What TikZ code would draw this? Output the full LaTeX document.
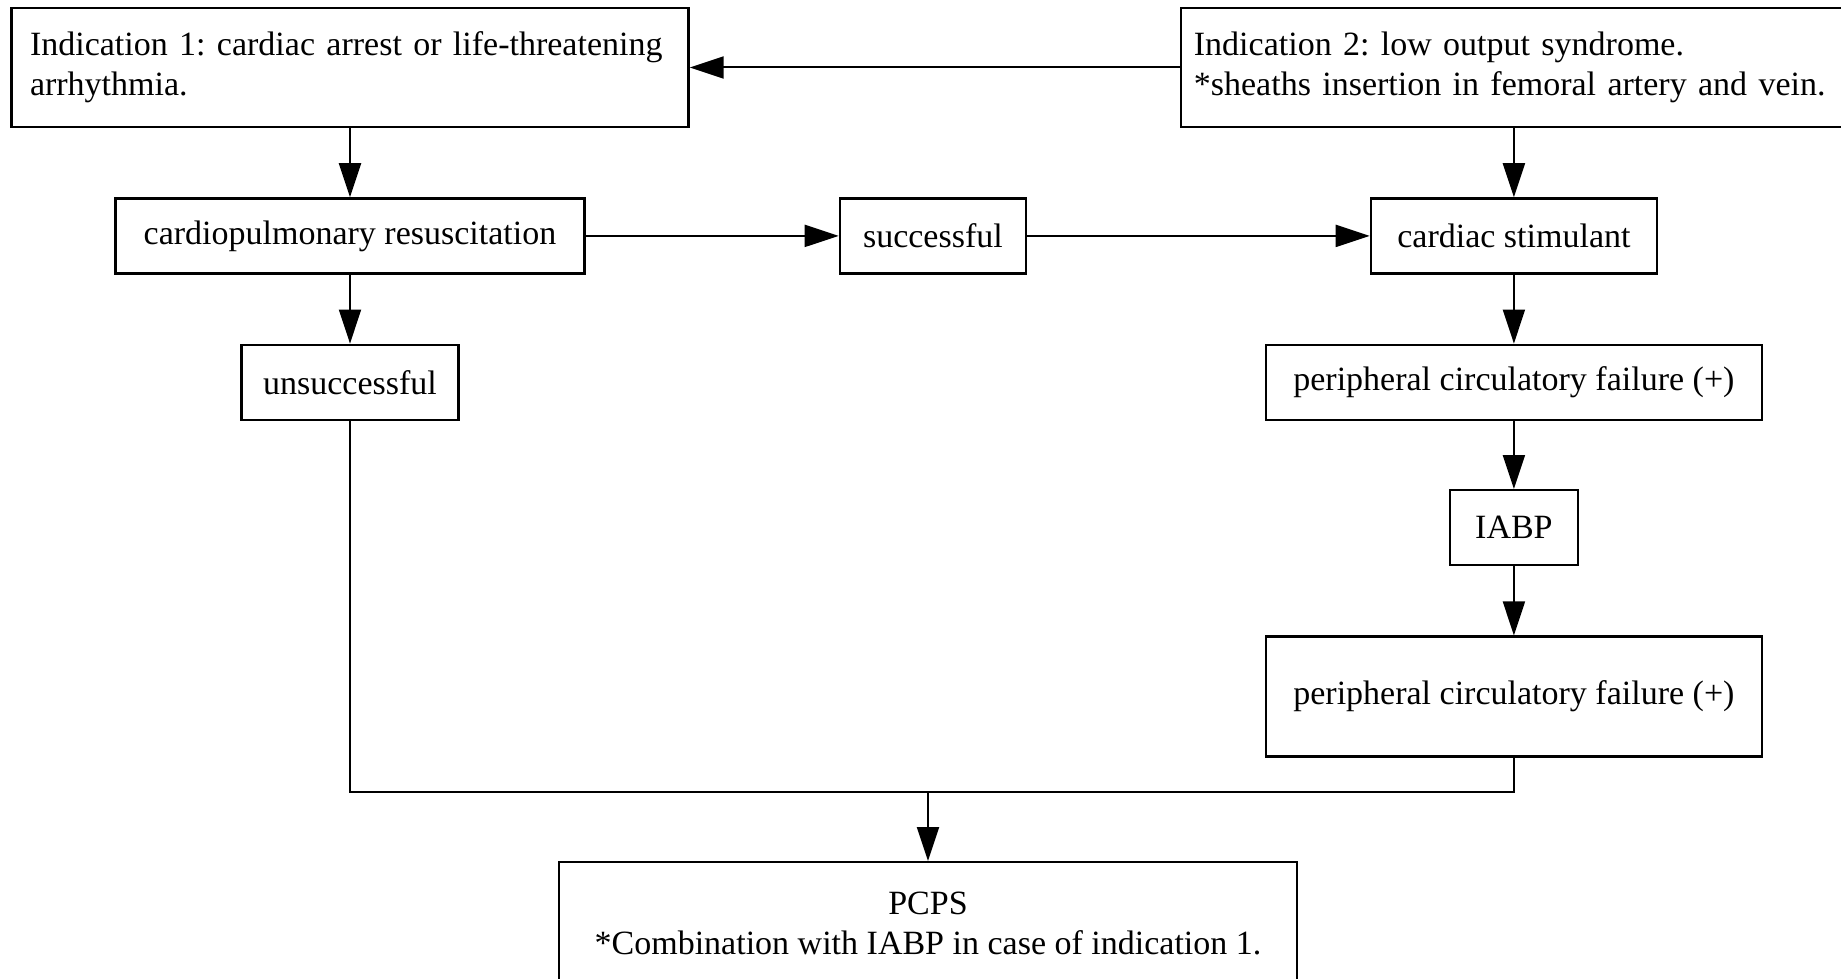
\documentclass[tikz,border=0pt]{standalone}
\usepackage{fontspec}
\setmainfont{Liberation Serif}
\usetikzlibrary{arrows.meta,positioning}
\frenchspacing

\begin{document}
\begin{tikzpicture}[x=0.5pt, y=-0.5pt, node distance=34.5pt,
        box/.style={rectangle, draw, line width=1.2pt, inner sep=0pt, align=center, minimum height=37.5pt, font=\fontsize{17}{20}\selectfont},
        note/.style={box, align=left, text width=320pt, minimum height=59.5pt, inner xsep=9.25pt},
        arrow/.style={->, >={Triangle[length=17pt, width=11pt]}, line width=1pt},
        link/.style={line width=1pt}]
        \useasboundingbox (0,0) rectangle (1841,979);

        \node[note] (ind1) at (350,67.5) {Indication 1: cardiac arrest or life-threatening\\arrhythmia.};
        \node[note, inner xsep=6.5pt, right=245pt of ind1] (ind2) {Indication 2: low output syndrome.\\{}*sheaths insertion in femoral artery and vein.};

        \node[box, minimum width=234.5pt, below=of ind1] (cpr) {cardiopulmonary resuscitation};
        \node[box, minimum width=93pt, right=126.5pt of cpr] (succ) {successful};
        \node[box, minimum width=143pt, below=of ind2] (stim) {cardiac stimulant};
        \node[box, minimum width=108.5pt, below=of cpr] (unsucc) {unsuccessful};

        \node[box, minimum width=248pt, below=of stim] (pcf1) {peripheral circulatory failure (+)};
        \node[box, minimum width=64pt, below=34pt of pcf1] (iabp) {IABP};
        \node[box, minimum width=248pt, minimum height=60pt, below=of iabp] (pcf2) {peripheral circulatory failure (+)};

        \node[box, minimum width=369pt, minimum height=61pt, anchor=north] (pcps) at (928,861) {PCPS\\{}*Combination with IABP in case of indication 1.};
        \coordinate[above=34.5pt of pcps.north] (merge);

        \draw[arrow] (ind2) -- (ind1);
        \draw[arrow] (ind1) -- (cpr);
        \draw[arrow] (cpr) -- (succ);
        \draw[arrow] (succ) -- (stim);
        \draw[arrow] (cpr) -- (unsucc);
        \draw[arrow] (ind2) -- (stim);
        \draw[arrow] (stim) -- (pcf1);
        \draw[arrow] (pcf1) -- (iabp);
        \draw[arrow] (iabp) -- (pcf2);

        \draw[link] (unsucc) |- (merge);
        \draw[link] (pcf2) |- (merge);
        \draw[arrow] (merge) -- (pcps);
    \end{tikzpicture}
\end{document}
